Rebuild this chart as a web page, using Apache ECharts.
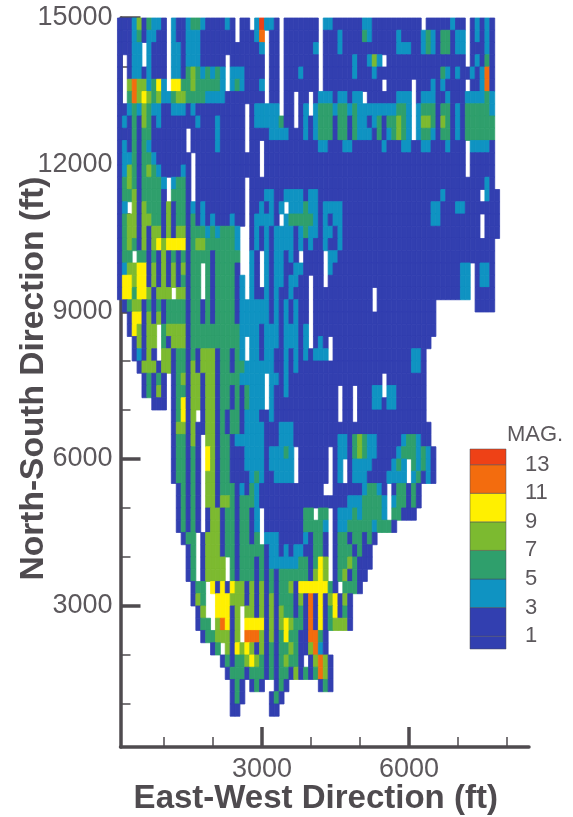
<!DOCTYPE html>
<html>
<head>
<meta charset="utf-8">
<style>html,body{margin:0;padding:0;background:#fff}#c{width:573px;height:817px;filter:blur(0.7px)}</style>
<script src="https://cdn.jsdelivr.net/npm/echarts@6/dist/echarts.min.js"></script>
</head>
<body>
<div id="c"></div>
<script>
// Each character is half the magnitude at a 100 ft x 250 ft cell; '.' = no data.
const magnitudeRows = [
"1112413221 .211233211 1121.11.27 221.111111 1.22111111 2211111111 11.1111121 1.12121.",
"1112312211 .211222111 1111.11126 .11.111111 1.11121111 3211111211 1123213312 2.12121.",
"11122.2111 .221222111 1111111112 .11.111111 2.11121111 1111111222 1123213312 2.11121.",
"1.122.2111 .221222111 11.1111111 .11.111111 1.11111121 1242.11111 1111111111 1.12131.",
"1.12212111 .221343232 32.2221111 .11.111211 1.11111121 1121111111 1111113212 1121261.",
"1.46442352 .553343333 32.2321112 .11.111111 1.11111111 1111.11111 .111212111 1.11261.",
"1.36454342 2344333322 2211111111 .11.11.11. 1222122122 .111111222 .122211211 1222232.",
"1123243221 1222121111 111111.122 222.11.12. 2333233232 2222222332 .233313312 1333332.",
"1213143121 1111112111 211111.122 222311.121 2333133132 2123133432 .244314312 1333333.",
"1113133111 1111.11111 211111.111 1222211121 2333133132 2213123432 .233213312 1333333.",
"1213132111 1111.11111 211111.11. 1111111111 1221112211 1111211122 1122111211 1.22221.",
"1223133211 11111.1111 111111111. 1111111111 1111111111 1111111111 1111111111 1.11111.",
"1243134321 11121.1111 111111111. 1111111111 1111111111 1111111111 1111111111 1.11111.",
"1343133332 .2331.1111 111111.111 1111111111 1111111111 1111111111 1111111111 1111121.",
"1334133331 .3331.1111 111111.111 2211222212 2111111111 1111111111 1111112111 1111.211",
"12.4143331 4133121211 111111.112 1212.22232 2122221111 1111111111 1111221112 21111111",
"1344144331 4133131212 111211.122 221.233333 2121221111 1111111111 1111221111 1111.111",
"1344141441 4144133323 23332..121 2122221232 2122121111 1111111111 1111111111 1111.111",
"1343141454 5555134433 33332..121 2122221212 1121121111 1111111111 1111111111 1111111.",
"133.331314 1313133331 33333..21. 2122121.11 11.2211111 1111111111 1111111111 1111111.",
"1244551414 1414133.31 33331..21. 2122112211 11.2111111 1111111111 1111111111 22.1221.",
"1554551414 1413133.31 333312.21. 212212211. 11.1111111 1111111111 1111111111 22.1221.",
"1553554144 4.44133.31 333312.211 212112111. 1111111111 11.1111111 1111111111 22.1111.",
".134413131 3333133131 3333122222 212121211. 1111111111 11.1111111 11111..... ...1111.",
"..15514141 3333133131 3333122222 212121211. 1111111111 1111111111 11111.....",
"..154144.3 4444133333 3333322221 222122212. 1111111111 1111111111 11111.....",
"...14144.3 1444133333 333332.221 222122212. 121.111111 1111111111 1111......",
"...12141.4 4133131444 133132.221 2211212121 222.111111 1111111111 221.......",
"....144414 4133141444 1331332222 2211212111 1111111111 1111111111 221.......",
".....13131 .134144144 1333322222 .221211111 1111111111 1111.11111 111.......",
".....13141 .133144144 1331313222 .211211111 11111.11.1 1122.22111 111.......",
".......111 .135144144 1331313222 .211111111 11111.11.1 1122122111 111.......",
".......... .13514.144 1313312221 1211111111 11111.11.1 1111111111 111.......",
".......... .144141144 1313312222 1112221111 1111111111 1111111111 1111......",
".......... .133141.44 1331222222 1112221111 1111122134 3221111123 3211......",
".......... .133131.54 1331112222 122232.111 111.122134 3221111233 32321.....",
".......... .133131.54 1331112222 122222.111 111.12.122 221111232. 32321.....",
".......... .133131.44 1331111232 112222.111 111.12.122 211112222. 23121.....",
".......... ..13131.44 1333121321 1111111111 11..111111 23321.1331 31........",
".......... ..13131.44 1443133321 1111111111 1111111222 33332.2331 31........",
".......... ..13131.14 413313312. 1111111133 .33.122232 33332.3311 1.........",
".......... ..13131.14 413313312. 1111111133 332.122333 3323331...",
".......... ...133.144 413313313. 2221111121 331.133133 131.......",
".......... ....13.144 4133133333 1221212211 331.133313 11........",
".......... ....13.144 44.3133313 1222222331 354.133431 11........",
".......... ....13.144 44.3133313 1313333331 454.134131 1.........",
".......... .....133.5 1515441414 1313341555 55531.3331",
".......... .....143.. 5554441414 1413331416 15145141..",
".......... ......14.. 55514.4414 1414331316 15135131..",
".......... ......133. 46514.5555 1414543316 15134441..",
".......... .......133 44414.6664 1413533116 631.......",
".......... .........1 3.41545414 1313343114 621.......",
".......... .......... .131334543 13134331.1 4641......",
".......... .......... ..13331333 1313314131 3641......",
".......... .......... ...131.131 ..131..... .131......",
".......... .......... ...131.... .131......",
".......... .......... ...11..... .11......."
];
const cellWidthFt = 100, cellHeightFt = 250, firstEastFt = 100, topNorthFt = 15000;
const levels = [1, 3, 5, 7, 9, 11, 13];
const levelColors = ['#323fb0', '#323fb0', '#0f93c2', '#2f9f6c', '#7cba30', '#fff000', '#f36c0e', '#ee4116'];
const legendBands = [[0.1, 1], [1, 3], [3, 5], [5, 7], [7, 9], [9, 11], [11, 13], [13, 14.1]];
const xMajor = [3000, 6000], xMinor = [1000, 2000, 4000, 5000, 7000, 8000];
const yMajor = [3000, 6000, 9000, 12000, 15000], yMinor = [1000, 2000, 4000, 5000, 7000, 8000, 10000, 11000, 13000, 14000];

const cells = [];
magnitudeRows.forEach((row, r) => {
  row.replace(/ /g, '').split('').forEach((ch, c) => {
    if (ch !== '.') cells.push([firstEastFt + cellWidthFt * c, topNorthFt - cellHeightFt * (r + 0.5), Number(ch) * 2]);
  });
});
const legendCells = legendBands.map(b => [b[0], b[1], (b[0] + b[1]) / 2]);

const ink = '#4f4b4f';
const plain = v => String(v);
const pieces = [{lt: 1, color: levelColors[0]}];
levels.forEach((l, i) => pieces.push(i < levels.length - 1 ? {gte: l, lt: levels[i + 1], color: levelColors[i + 1]} : {gte: l, color: levelColors[i + 1]}));

const chart = echarts.init(document.getElementById('c'), null, {renderer: 'canvas'});
chart.setOption({
  animation: false,
  backgroundColor: '#fff',
  grid: [
    {left: 120.5, top: 18, width: 408.5, height: 729, outerBoundsMode: 'none'},
    {left: 470, top: 449, width: 36, height: 200, outerBoundsMode: 'none'}
  ],
  xAxis: [
    {gridIndex: 0, type: 'value', min: 112, max: 8450, position: 'bottom', splitLine: {show: false},
     axisLine: {show: true, onZero: false, lineStyle: {color: ink, width: 3.5}},
     axisTick: {show: true, inside: true, length: 20, customValues: xMajor, lineStyle: {color: ink, width: 3.5}},
     axisLabel: {show: true, customValues: xMajor, formatter: plain, color: '#5c585c', fontFamily: 'Liberation Sans', fontSize: 27, margin: 9},
     name: 'East-West Direction (ft)', nameLocation: 'middle', nameGap: 35, nameMoveOverlap: false,
     nameTextStyle: {color: ink, fontFamily: 'Liberation Sans', fontWeight: 'bold', fontSize: 33, padding: [0, 18, 0, 0]}},
    {gridIndex: 0, type: 'value', min: 112, max: 8450, position: 'bottom', splitLine: {show: false},
     axisLine: {show: false, onZero: false},
     axisTick: {show: true, inside: true, length: 10, customValues: xMinor, lineStyle: {color: ink, width: 1.5}},
     axisLabel: {show: false}},
    {gridIndex: 1, type: 'value', min: 0, max: 1, show: false}
  ],
  yAxis: [
    {gridIndex: 0, type: 'value', min: 122, max: 15000, position: 'left', splitLine: {show: false},
     axisLine: {show: true, onZero: false, lineStyle: {color: ink, width: 3.5}},
     axisTick: {show: true, inside: true, length: 20, customValues: yMajor, lineStyle: {color: ink, width: 3.5}},
     axisLabel: {show: true, customValues: yMajor, formatter: plain, color: '#5c585c', fontFamily: 'Liberation Sans', fontSize: 27, margin: 8},
     name: 'North-South Direction (ft)', nameLocation: 'middle', nameGap: 70, nameMoveOverlap: false,
     nameTextStyle: {color: ink, fontFamily: 'Liberation Sans', fontWeight: 'bold', fontSize: 33.5, padding: [0, 0, 0, 8]}},
    {gridIndex: 0, type: 'value', min: 122, max: 15000, position: 'left', splitLine: {show: false},
     axisLine: {show: false, onZero: false},
     axisTick: {show: true, inside: true, length: 10, customValues: yMinor, lineStyle: {color: ink, width: 1.5}},
     axisLabel: {show: false}},
    {gridIndex: 1, type: 'value', min: 0.1, max: 14.1, position: 'right', splitLine: {show: false},
     axisLine: {show: false}, axisTick: {show: false},
     axisLabel: {show: true, customValues: levels, color: '#5c585c', fontFamily: 'Liberation Sans', fontSize: 22, margin: 19},
     name: 'MAG.', nameLocation: 'end', nameGap: 3, nameMoveOverlap: false,
     nameTextStyle: {color: '#5c585c', fontFamily: 'Liberation Sans', fontSize: 22, align: 'left', padding: [0, 0, 0, 37]}}
  ],
  visualMap: {show: false, type: 'piecewise', dimension: 2, seriesIndex: [0, 1], pieces: pieces},
  series: [
    {type: 'custom', xAxisIndex: 0, yAxisIndex: 0, clip: true, data: cells, encode: {x: 0, y: 1},
     renderItem: (params, api) => {
       const x = api.value(0), y = api.value(1);
       const a = api.coord([x - cellWidthFt / 2, y + cellHeightFt / 2]);
       const b = api.coord([x + cellWidthFt / 2, y - cellHeightFt / 2]);
       const color = api.visual('color');
       return {type: 'rect', shape: {x: a[0], y: a[1], width: b[0] - a[0], height: b[1] - a[1]},
               style: {fill: color, stroke: color, lineWidth: 0.8}};
     }},
    {type: 'custom', xAxisIndex: 2, yAxisIndex: 2, clip: false, data: legendCells, encode: {y: 0},
     renderItem: (params, api) => {
       const a = api.coord([0, api.value(1)]);
       const b = api.coord([1, api.value(0)]);
       return {type: 'rect', shape: {x: a[0], y: a[1], width: b[0] - a[0], height: b[1] - a[1]},
               style: {fill: api.visual('color'), stroke: '#4a4a55', lineWidth: 0.5}};
     }}
  ]
});
</script>
</body>
</html>
